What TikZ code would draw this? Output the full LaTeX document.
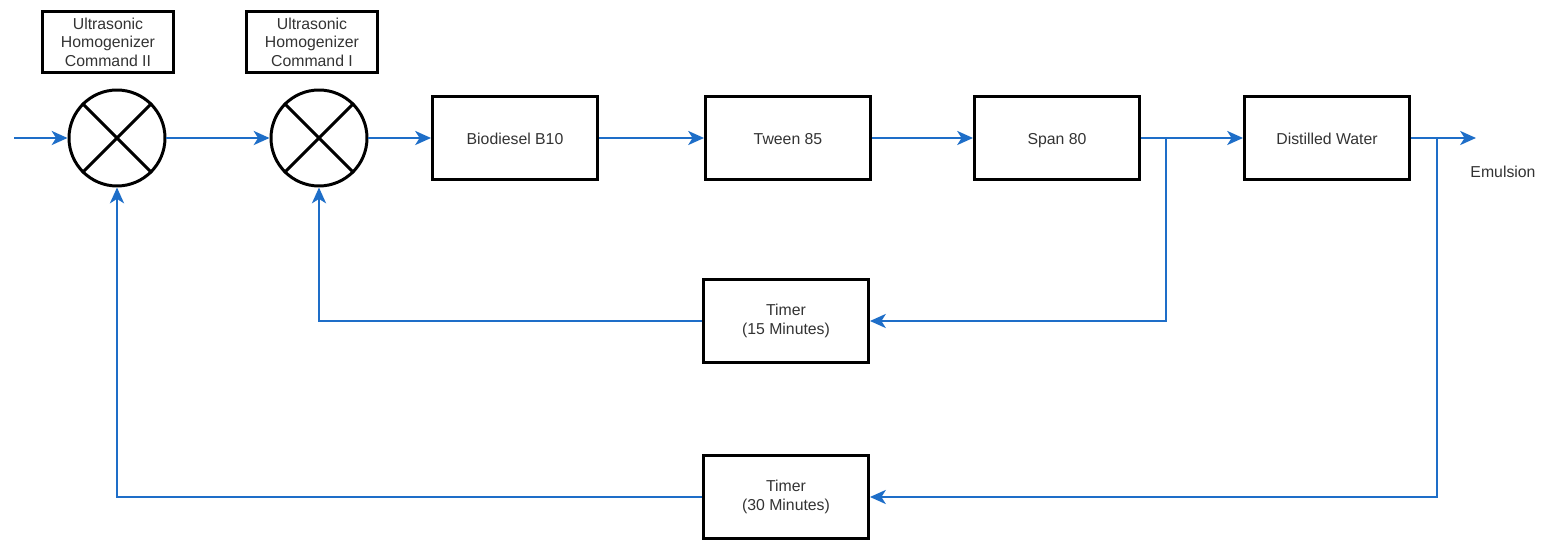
\documentclass[tikz,border=0pt]{standalone}
\usepackage{fontspec}
\setmainfont{Liberation Sans}
\usetikzlibrary{arrows.meta}
\definecolor{lineBlue}{RGB}{30, 110, 200}
\definecolor{textGray}{RGB}{51, 51, 51}

\begin{document}
\begin{tikzpicture}[x=0.02cm, y=-0.02cm,
    blockbox/.style={draw=black, line width=1.7pt, minimum width=3.3cm, minimum height=1.65cm,
      text=textGray, font=\fontsize{9}{10.5}\selectfont, align=center},
    oneline/.style={text height=1.55ex, text depth=0.25ex},
    cmdbox/.style={draw=black, line width=1.7pt, minimum width=2.62cm, minimum height=1.22cm,
      text=textGray, font=\fontsize{9}{10.5}\selectfont, align=center, inner sep=1pt},
    mixer/.style={draw=black, line width=1.7pt, circle, minimum size=1.92cm, inner sep=0pt},
    flow/.style={draw=lineBlue, line width=1.35pt, -{Stealth[length=9pt, width=8pt, inset=2.5pt]}}]
        \useasboundingbox (0,0) rectangle (1543,540);
        % command boxes
        \node[cmdbox] (cmd2) at (108,42) {Ultrasonic\\Homogenizer\\Command II};
        \node[cmdbox] (cmd1) at (312,42) {Ultrasonic\\Homogenizer\\Command I};
        % summing points
        \node[mixer] (mix1) at (117,138) {};
        \node[mixer] (mix2) at (319,138) {};
        \foreach \m in {mix1, mix2} {
          \draw[line width=1.7pt] (\m.north west) -- (\m.south east);
          \draw[line width=1.7pt] (\m.north east) -- (\m.south west);
        }
        % main chain
        \node[blockbox, oneline] (bio) at (515,138) {Biodiesel B10};
        \node[blockbox, oneline] (tween) at (788,138) {Tween 85};
        \node[blockbox, oneline] (span) at (1057,138) {Span 80};
        \node[blockbox, oneline] (water) at (1327,138) {Distilled Water};
        \node[blockbox] (t15) at (786,321) {Timer\\(15 Minutes)};
        \node[blockbox] (t30) at (786,497) {Timer\\(30 Minutes)};
        \node[text=textGray, font=\fontsize{9}{10.5}\selectfont] (emul) at (1503,172) {Emulsion};
        \coordinate (in) at (14,138);
        \coordinate (out) at (1476,138);
        \coordinate (tap1) at (1166,138);
        \coordinate (tap2) at (1437,138);
        % forward path
        \draw[flow] (in) -- (mix1);
        \draw[flow] (mix1) -- (mix2);
        \draw[flow] (mix2) -- (bio);
        \draw[flow] (bio) -- (tween);
        \draw[flow] (tween) -- (span);
        \draw[flow] (span) -- (water);
        \draw[flow] (water) -- (out);
        % feedback loops
        \draw[flow] (tap1) |- (t15);
        \draw[flow] (t15) -| (mix2);
        \draw[flow] (tap2) |- (t30);
        \draw[flow] (t30) -| (mix1);
\end{tikzpicture}
\end{document}
